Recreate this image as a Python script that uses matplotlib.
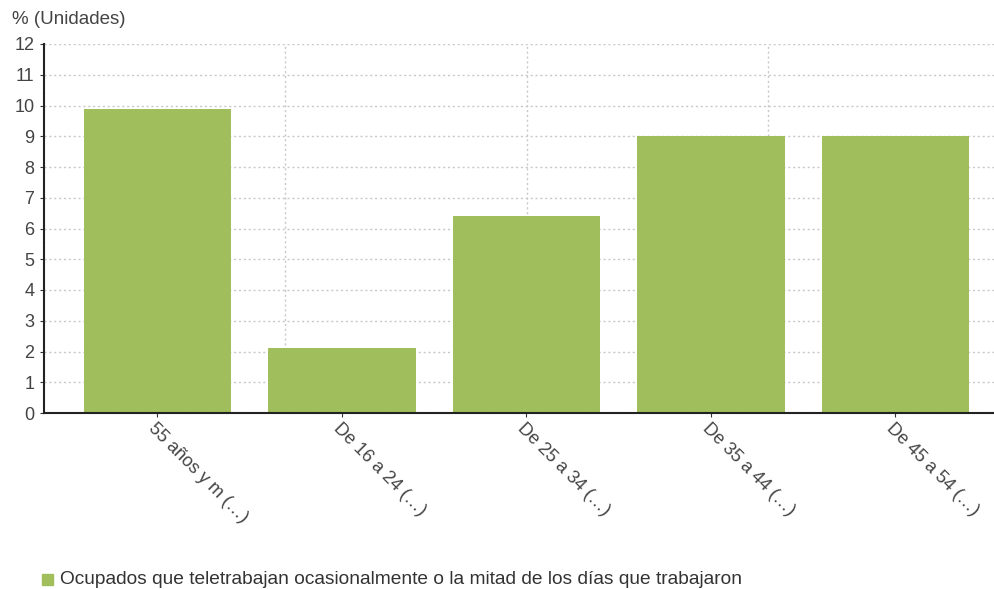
import matplotlib
matplotlib.use("Agg")
import matplotlib.pyplot as plt
import numpy as np

categories = ["55 años y m (…)", "De 16 a 24 (…)", "De 25 a 34 (…)", "De 35 a 44 (…)", "De 45 a 54 (…)"]
values = [9.9, 2.1, 6.4, 9.0, 9.0]
series_name = "Ocupados que teletrabajan ocasionalmente o la mitad de los días que trabajaron"
y_ticks = list(range(0, 13))

plt.rcParams['font.family'] = ['Liberation Sans', 'DejaVu Sans']

fig = plt.figure(figsize=(9.95, 5.89), dpi=100)
ax = fig.add_axes([44/995, 1-413/589, 1-44/995, (413-44)/589])

bar_color = "#A0BE5B"
x = np.arange(len(categories))
ax.bar(x, values, width=0.8, color=bar_color, zorder=3)

ax.set_xlim(-0.615, 4.54)
ax.set_ylim(0, 12)
ax.set_yticks(y_ticks)
ax.set_yticklabels([str(t) for t in y_ticks], fontsize=13, color="#444444")
ax.set_xticks(x)
ax.set_xticklabels(categories, rotation=-45, ha='left', va='top', rotation_mode='anchor',
                   fontsize=13, color="#444444")
ax.tick_params(axis='x', length=3, color="#333333", pad=2)
ax.tick_params(axis='y', length=3, color="#333333", pad=4)

# grid
ax.yaxis.grid(True, linestyle=(0, (1.5, 2)), color="#c8c8c8", linewidth=1, zorder=0)
for fx in [241/951, 483/951, 724/951]:
    ax.plot([fx, fx], [0, 1], transform=ax.transAxes, linestyle=(0, (1.5, 2)),
            color="#c8c8c8", linewidth=1, zorder=0)

for s in ['top', 'right']:
    ax.spines[s].set_visible(False)
for s in ['left', 'bottom']:
    ax.spines[s].set_linestyle((0, (1.2, 0.8)))
    ax.spines[s].set_color("#222222")
    ax.spines[s].set_linewidth(1.5)
    ax.spines[s].set_zorder(4)

fig.text(12/995, 1-20/589, "% (Unidades)", fontsize=13.5, color="#444444", va='center', ha='left')

# legend
fig.patches.append(plt.Rectangle((42/995, 1-585/589), 11/995, 11/589, transform=fig.transFigure,
                                 color=bar_color, figure=fig))
fig.text(60/995, 1-579/589, series_name, fontsize=13.8, color="#333333", va='center', ha='left')

fig.savefig("out.png", dpi=100)
